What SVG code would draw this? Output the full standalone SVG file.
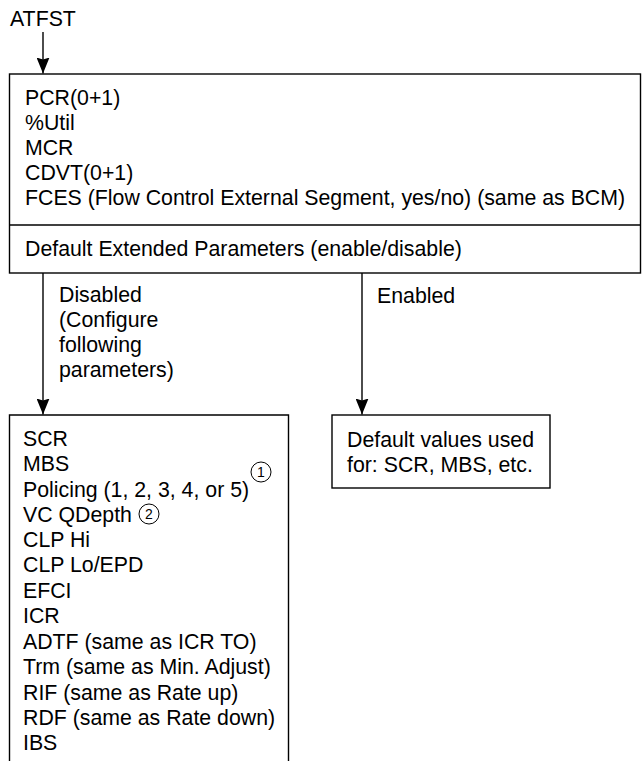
<svg xmlns="http://www.w3.org/2000/svg" width="642" height="761" viewBox="0 0 642 761">
<style>
text{font-family:"Liberation Sans",Arial,sans-serif;font-size:21.3px;fill:#000}
.box{fill:#fff;stroke:#000;stroke-width:1.4}
.ln{stroke:#000;stroke-width:1.4;fill:none}
.num{font-size:14px;text-anchor:middle}
.circ{fill:none;stroke:#000;stroke-width:1}
</style>
<defs>
<marker id="arr" markerWidth="16" markerHeight="13" refX="16" refY="6.5" orient="auto" markerUnits="userSpaceOnUse" viewBox="0 0 16 13">
<path d="M0,0 L16,6.5 L0,13 L2,6.5 Z" fill="#000"/>
</marker>
</defs>
<rect width="642" height="761" fill="#fff"/>
<g id="start">
<text x="10" y="26">ATFST</text>
</g>
<g id="main">
<rect class="box" x="9.5" y="74" width="631" height="199"/>
<line class="ln" x1="9.5" y1="225" x2="640.5" y2="225"/>
<text x="25" y="105">PCR(0+1)</text>
<text x="25" y="130">%Util</text>
<text x="25" y="155">MCR</text>
<text x="25" y="180">CDVT(0+1)</text>
<text x="25" y="205">FCES (Flow Control External Segment, yes/no) (same as BCM)</text>
<text x="25" y="256">Default Extended Parameters (enable/disable)</text>
</g>
<g id="disabled">
<path class="box" d="M9.5,761 L9.5,415 L288.5,415 L288.5,761"/>
<text x="23" y="446">SCR</text>
<text x="23" y="471">MBS</text>
<text x="23" y="497">Policing (1, 2, 3, 4, or 5)</text>
<circle class="circ" cx="261" cy="472" r="10"/>
<text class="num" x="261" y="477">1</text>
<text x="23" y="522">VC QDepth</text>
<circle class="circ" cx="149" cy="514" r="10"/>
<text class="num" x="149" y="519">2</text>
<text x="23" y="547">CLP Hi</text>
<text x="23" y="572">CLP Lo/EPD</text>
<text x="23" y="598">EFCI</text>
<text x="23" y="623">ICR</text>
<text x="23" y="649">ADTF (same as ICR TO)</text>
<text x="23" y="674">Trm (same as Min. Adjust)</text>
<text x="23" y="700">RIF (same as Rate up)</text>
<text x="23" y="725">RDF (same as Rate down)</text>
<text x="23" y="750">IBS</text>
</g>
<g id="enabled">
<rect class="box" x="332" y="415" width="218" height="73"/>
<text x="347" y="447">Default values used</text>
<text x="347" y="472">for: SCR, MBS, etc.</text>
</g>
<g id="connectors">
<line class="ln" x1="43" y1="32" x2="43" y2="73.5" marker-end="url(#arr)"/>
<line class="ln" x1="43" y1="273" x2="43" y2="414.5" marker-end="url(#arr)"/>
<line class="ln" x1="362" y1="273" x2="362" y2="414.5" marker-end="url(#arr)"/>
<text x="59" y="302">Disabled</text>
<text x="59" y="327">(Configure</text>
<text x="59" y="352">following</text>
<text x="59" y="377">parameters)</text>
<text x="377" y="303">Enabled</text>
</g>
</svg>
